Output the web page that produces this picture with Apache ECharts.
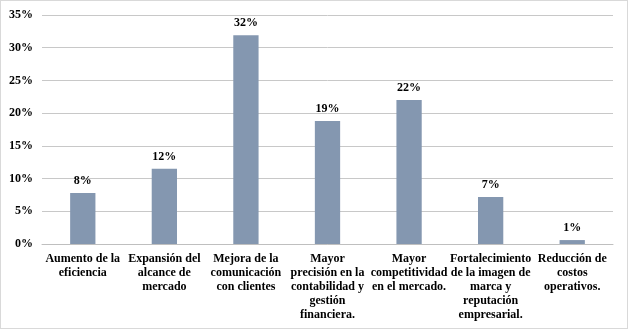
<!DOCTYPE html>
<html><head><meta charset="utf-8">
<script src="https://cdn.jsdelivr.net/npm/echarts@6/dist/echarts.min.js"></script>
<style>html,body{margin:0;padding:0;background:#fff}#c{width:628px;height:329px;box-sizing:border-box;border:1px solid #d9d9d9}</style>
</head><body><div id="c"></div>
<script>
var categories = [
  "Aumento de la\neficiencia",
  "Expansión del\nalcance de\nmercado",
  "Mejora de la\ncomunicación\ncon clientes",
  "Mayor\nprecisión en la\ncontabilidad y\ngestión\nfinanciera.",
  "Mayor\ncompetitividad\nen el mercado.",
  "Fortalecimiento\nde la imagen de\nmarca y\nreputación\nempresarial.",
  "Reducción de\ncostos\noperativos."
];
var values = [7.8, 11.5, 31.9, 18.8, 22.0, 7.2, 0.6];
var yTicks = [0, 5, 10, 15, 20, 25, 30, 35];

var font = "'Liberation Serif', 'Times New Roman', serif";
var chart = echarts.init(document.getElementById('c'), null, {renderer: 'canvas'});
chart.setOption({
  animation: false,
  grid: {left: 41, right: 14, top: 14, bottom: 84, containLabel: false},
  xAxis: {
    type: 'category', data: categories,
    axisTick: {show: false},
    axisLine: {lineStyle: {color: '#bfbfbf'}},
    axisLabel: {interval: 0, color: '#000', fontFamily: font, fontWeight: 'bold', fontSize: 12, lineHeight: 14, margin: 8}
  },
  yAxis: {
    type: 'value', min: yTicks[0], max: yTicks[yTicks.length - 1], interval: 5,
    axisLine: {show: false}, axisTick: {show: false},
    splitLine: {lineStyle: {color: '#c8c8c8', width: 1}},
    axisLabel: {formatter: function (v) { return v + '%'; }, color: '#000', fontFamily: font, fontWeight: 'bold', fontSize: 12, margin: 9}
  },
  series: [{
    type: 'bar', data: values, barWidth: '31%',
    itemStyle: {color: '#8497b0'},
    label: {show: true, position: 'top', distance: 6, color: '#000', fontFamily: font, fontWeight: 'bold', fontSize: 12,
      formatter: function (p) { return Math.round(p.value) + '%'; }}
  }]
});
</script></body></html>
